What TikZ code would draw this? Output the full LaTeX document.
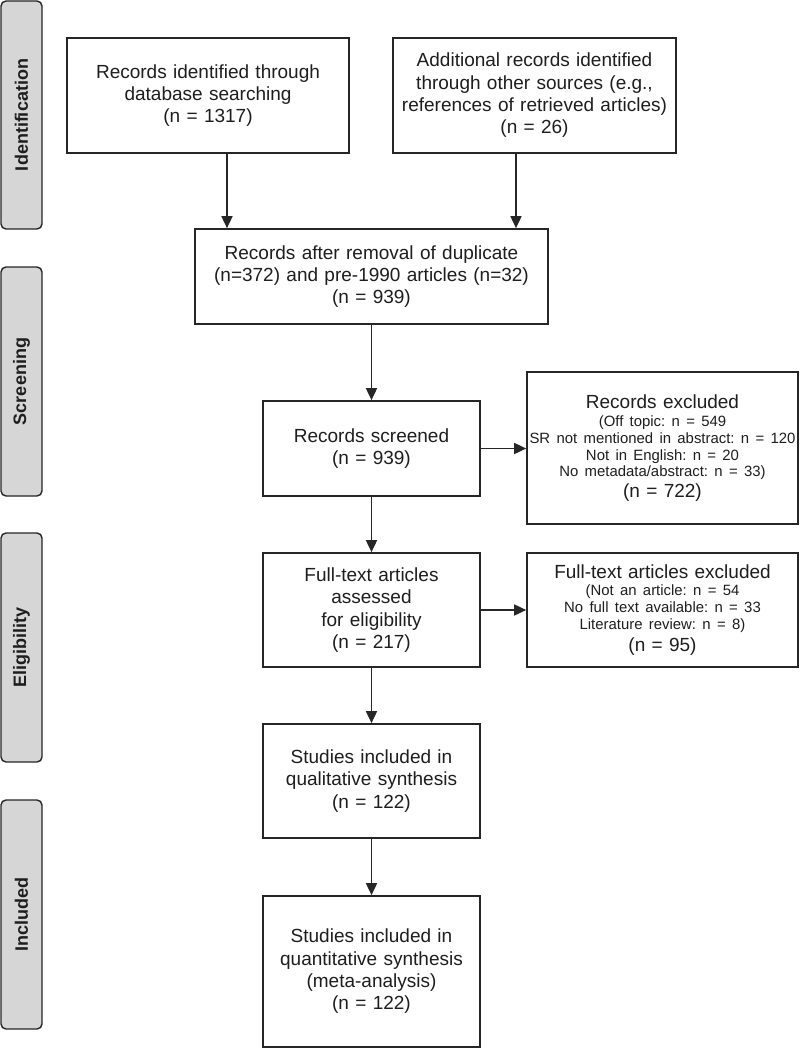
\documentclass[tikz,border=0pt]{standalone}
\usepackage{fontspec}
\setmainfont{Liberation Sans}
\usetikzlibrary{arrows.meta,calc}
\definecolor{lineC}{HTML}{262626}
\definecolor{barfill}{HTML}{D6D6D6}
\definecolor{txt}{HTML}{1E1E1E}
\newcommand{\pmain}{\fontsize{19}{22.3}\selectfont}
\newcommand{\psmall}{\fontsize{14.9}{16.7}\selectfont}
\frenchspacing
\begin{document}
\begin{tikzpicture}[x=1pt,y=-1pt,
  box/.style={draw=lineC, line width=1.7pt, fill=white, inner sep=0pt, text=txt, align=center, font=\pmain},
  bar/.style={draw=lineC, line width=1.4pt, fill=barfill, rounded corners=5pt, inner sep=0pt, rotate=90,
    minimum height=41pt, text=txt, font=\fontsize{18}{20}\selectfont\bfseries},
  arr/.style={draw=lineC, line width=1.7pt, -{Triangle[length=12pt,width=11pt]}}]
\useasboundingbox (0,0) rectangle (800,1049);

% phase bars
\node[bar, minimum width=228pt] (idb) at (21.5,115) {Identification};
\node[bar, minimum width=229pt] (scb) at (21.5,381.5) {Screening};
\node[bar, minimum width=229pt] (elb) at (21.5,647.5) {Eligibility};
\node[bar, minimum width=229pt] (inb) at (21.5,914.5) {Included};

% boxes
\node[box, minimum width=282pt, minimum height=115pt, text width=270pt] (A) at (208,95.5)
  {Records identified through\\database searching\\(n = 1317)};
\node[box, minimum width=283pt, minimum height=115pt, text width=275pt] (B) at (534.5,95.5)
  {Additional records identified\\through other sources (e.g.,\\references of retrieved articles)\\(n = 26)};
\node[box, minimum width=353pt, minimum height=95pt, text width=340pt] (C) at (371.5,276.5)
  {Records after removal of duplicate\\(n=372) and pre-1990 articles (n=32)\\(n = 939)};
\node[box, minimum width=217pt, minimum height=95pt, text width=205pt] (D) at (371.5,448.5)
  {Records screened\\(n = 939)};
\node[box, minimum width=271pt, minimum height=152pt, text width=269pt] (E) at (662.5,448)
  {{\pmain Records excluded\par}
   {\fontsize{14.9}{18.3}\selectfont (Off topic: n = 549\par}
   {\psmall SR not mentioned in abstract: n = 120\par Not in English: n = 20\par No metadata/abstract: n = 33)\par}
   {\fontsize{19}{20.7}\selectfont (n = 722)\par}};
\node[box, minimum width=217pt, minimum height=114pt, text width=205pt] (F) at (371.5,610)
  {Full-text articles\\assessed\\for eligibility\\(n = 217)};
\node[box, minimum width=271pt, minimum height=114pt, text width=269pt] (G) at (662.5,610)
  {{\pmain Full-text articles excluded\par}
   {\fontsize{14.9}{17}\selectfont (Not an article: n = 54\par No full text available: n = 33\par Literature review: n = 8)\par}
   {\fontsize{19}{21.5}\selectfont (n = 95)\par}};
\node[box, minimum width=217pt, minimum height=114pt, text width=205pt] (H) at (371.5,781)
  {Studies included in\\qualitative synthesis\\(n = 122)};
\node[box, minimum width=217pt, minimum height=151pt, text width=205pt] (I) at (371.5,971.5)
  {Studies included in\\quantitative synthesis\\(meta-analysis)\\(n = 122)};

% connectors
\draw[arr] ([xshift=19pt]A.south) -- ([xshift=19pt]A.south |- C.north);
\draw[arr] ([xshift=-18.5pt]B.south) -- ([xshift=-18.5pt]B.south |- C.north);
\draw[arr] (C.south) -- (D.north);
\draw[arr] (D.east) -- (D.east -| E.west);
\draw[arr] (D.south) -- (F.north);
\draw[arr] (F.east) -- (G.west);
\draw[arr] (F.south) -- (H.north);
\draw[arr] (H.south) -- (I.north);
\end{tikzpicture}
\end{document}
